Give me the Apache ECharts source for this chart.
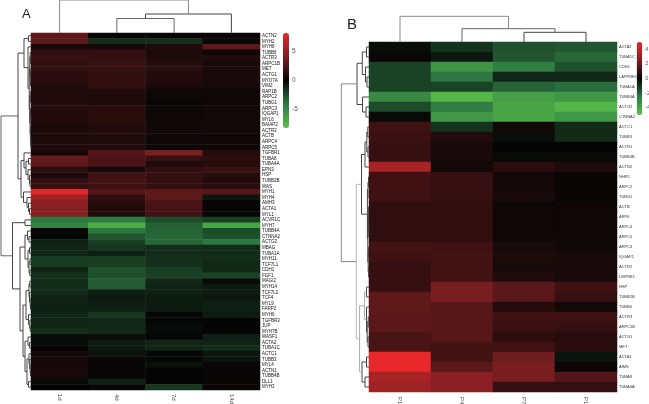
<!DOCTYPE html>
<html>
<head>
<meta charset="utf-8">
<title>Heatmaps</title>
<script src="https://cdn.jsdelivr.net/npm/echarts@6/dist/echarts.min.js"></script>
<style>
  html, body { margin: 0; padding: 0; background: #fff; }
  #chart { width: 649px; height: 404px; filter: blur(0.3px); }
</style>
</head>
<body>
<div id="chart"></div>
<script>
// panel A
var colsA = ['1d', '4d', '7d', '14d'];
var rowsA = ['ACTN2','MYH2','MYH8','TUBB6','ACTR3','ARPC1B','MET','ACTG1','MYO7A','VIM2','RAP1B','ARPC2','TUBG1','ARPC3','IQGAP1','MYL6','BAIAP2','ACTR2','ACTB','ARPC4','ARPC5','TGFBR1','TUBA8','TUBA4A','EPN3','HSP','TUBB2B','WAS','MYH1','MYH4','AMH3','ACTA1','MYL1','ACVR1C','MYH7','TUBB4A','CTNNA2','ACTG2','MBAG','TUBA1A','MYH11','TCF7L1','CDH1','FGF1','MAGI2','MYH14','TCF7L2','TCF4','MYL9','FARP2','MYH6','TGFBR3','JUP','MYH7B','WASF1','ACTA2','TUBA1C','ACTC1','TUBB3','MYL4','ACTN1','TUBB4B','DLL1','MYH3'];
var valuesA = [
  [3,0.2,0.2,0.2],[3,-1.4,-1.4,0.2],[0.6,0.5,0.9,3],[1.6,1.5,0.8,0.3],[1.7,1.6,0.9,1],[1.6,1.7,1.1,0.7],
  [1.5,1.6,1.2,0.7],[1.3,1.5,1,0.7],[1.3,1.6,1,0.7],[0.9,1.5,0.8,0.6],[0.9,0.9,0.3,0.3],[1,0.8,0.3,0.3],
  [1,0.8,0.2,0.3],[1.1,1.2,0.3,0.4],[1,1.2,0.3,0.4],[1,1.2,0.3,0.5],[0.8,1,0.4,0.4],[0.8,1,0.4,0.4],
  [0.8,0.9,0.4,0.3],[0.8,0.9,0.3,0.3],[0.9,1,0.3,0.3],[0.6,2.7,4,1.1],[3.3,2.4,1.7,1.3],[3,2.4,0.9,1.2],
  [1.3,0.6,1.5,1.8],[0.8,2,1.6,1.1],[1.5,2.2,1.6,1],[1.7,1.9,1.5,1.2],[8,2.6,3,2.8],[5.4,1.4,3,-0.6],
  [4.7,1.2,2.3,0.1],[4.5,0.9,2.2,0.1],[4.5,0.9,2,0.1],[-4,-4.2,-2.5,-2],[-4.5,-7,-3.2,-6.5],[0.1,-4,-3.3,-2.4],
  [0,-2.8,-3.4,-2.6],[-1,-2,-3.4,-4],[-1.1,-1.7,-1.4,-1.3],[-1.1,-0.9,-1.4,-1.3],[-1.9,-2,-1.5,-1.4],[-1.9,-2,-1.5,-1.2],
  [-1,-2.6,-2,-1.2],[-1.5,-2.6,-2.1,-2.2],[-1.4,-3,-1.2,-0.2],[-1.4,-3,-1,-0.7],[-1.3,-0.9,-0.9,-0.8],[-1,-0.7,-0.8,-0.6],
  [-1,-0.8,-0.8,-0.9],[-0.9,-0.9,-0.8,-0.9],[-1.1,-1.7,0,-0.8],[-1.1,-1.2,0,0],[-1.1,-1.2,-0.2,0],[-1.5,-1.2,-0.2,0],
  [-0.2,-0.3,0,-0.9],[-0.2,-0.8,-1.1,-1],[0,-0.7,-1.1,-1.4],[0.5,-0.5,-0.1,-0.6],[0.6,0.2,-0.1,-0.5],[0.6,0.1,-0.4,0.1],
  [0.6,0.1,0,0.1],[0.6,0.1,0,0.1],[-0.2,-0.9,0,0.2],[0,0,-1.7,0.2]
];
var ticksA = [-5, 0, 5];
// dendrograms: [height, child, child], a plain number is a leaf index
var treeColsA = [33, 0, [19, [14.5, 1, 2], 3]];
var treeRowsA = [30,
  [13,
    [7, [2.5, 0, 1], [3, 2,
      [1.8,
        [1.2, [0.8, 3, [0.5, 4, 5]], [0.7, [0.4, 6, 7], [0.5, 8, 9]]],
        [1.3, [0.7, 10, [0.4, 11, 12]], [0.9, [0.5, 13, [0.3, 14, 15]], [0.6, [0.3, 16, 17], [0.3, 18, [0.2, 19, 20]]]]]
      ]]],
    [10, [7, 21, [5, [2.5, 22, 23], [3, 24, [1.5, 25, [1, 26, 27]]]]], [7.5, 28, [4, 29, [2.5, 30, [1.5, 31, 32]]]]]
  ],
  [18.5,
    [6, 33, 34],
    [11,
      [6, [3.5, 35, [2, 36, 37]], [3, [1.5, 38, 39], [2, [1, 40, 41], [1.2, 42, 43]]]],
      [8,
        [5, [2, [1.2, 44, 45], [1.5, 46, [0.8, 47, [0.5, 48, 49]]]], [2.5, 50, [1.2, 51, [0.7, 52, 53]]]],
        [6, [3, 54, [1.5, 55, 56]], [4, [2, 57, [1.2, 58, [0.8, 59, [0.5, 60, 61]]]], [2.5, 62, 63]]]
      ]
    ]
  ]
];

// panel B
var colsB = ['P1', 'P4', 'P7', 'P14'];
var rowsB = ['ACTA2','TUBA1C','CDH1','LAPPRE1','TUBA1A','TUBB4A','ACTG2','CTNNA2','ACTC1','TUBB3','ACTN1','TUBB4B','ACTN2','NHR1','ARPC2','TUBG1','ACTB','ARP6','ARPC4','ARPC5','ARPC3','IQGAP1','ACTR2','LMPRE1','HSP','TUBB2B','TUBB6','ACTR3','ARPC1B','ACTG1','MET','ACTA1','AIMS','TUBA8','TUBA4A'];
var valuesB = [
  [-0.2,-1,-1.6,-1.7],[0.1,-0.4,-1.7,-2.1],[-1.3,-3.4,-2.6,-1.6],[-1.3,-2.4,-0.7,-0.7],[-1.3,-1.3,-2,-2.2],
  [-3,-4.6,-3.8,-3.5],[-1.5,-2.6,-4,-4.6],[-0.1,-3.5,-4,-3.5],[1.2,-1,0.3,-0.8],[1.1,0.6,-0.2,-0.8],
  [1,0.4,0,0],[1,0.4,-0.1,-0.1],[3.5,0.3,0.8,0.5],[1.2,1,0.3,0.1],[1.2,1,0.3,0.1],
  [1.2,1,0.4,0.1],[0.9,0.9,0.2,0.2],[0.9,0.9,0.2,0.2],[0.9,0.9,0.2,0.2],[0.9,0.9,0.2,0.2],
  [1.3,1.2,0.4,0.3],[1.2,1.3,0.5,0.4],[1,1.3,0.4,0.4],[1,1.3,0.6,0.4],[1,2.4,1.8,1.2],
  [1.9,2.4,1.8,1],[1.9,1.7,0.7,0.3],[1.8,1.7,1.2,1.2],[1.8,1.7,1.1,1],[1.4,1.7,0.8,0.7],
  [1.4,1.3,1.2,0.8],[5,1.3,2.2,-0.3],[5,1.8,2.4,0.1],[3.5,2.8,2.4,1.6],[3.3,2.8,1,1]
];
var ticksB = [-4, -2, 0, 2, 4];
var treeColsB = [25.7, 0, [13.3, 1, [9.7, 2, 3]]];
var treeRowsB = [27.7,
  [12,
    [6.7, [2.5, 0, 1], [3.5, 2, [2, 3, 4]]],
    [6.5, 5, [3, 6, 7]]
  ],
  [12.7,
    [7.5,
      [4, [2.2, [1.2, 8, 9], [1, 10, 11]], 12],
      [1.6, [1, [0.5, 13, 14], 15], [1.2, [0.6, 16, [0.3, 17, [0.2, 18, 19]]], [0.8, [0.5, 20, 21], [0.4, 22, 23]]]]
    ],
    [9.4,
      [4.5, [2.5, 24, 25], [2.5, 26, [1.8, [0.8, 27, 28], [1, 29, 30]]]],
      [7, [2.5, 31, 32], [4, 33, 34]]
    ]
  ]
];

var scaleColors = ['#5cc14a', '#2e7b43', '#050505', '#7d1f22', '#e8282a'];
var font = '"Liberation Sans", Arial, sans-serif';
// the big joins are printed in lighter greys, keyed by join height
var treeGrey = { 33: '#888', 30: '#666', 25.7: '#8a8a8a', 27.7: '#888', 12.7: '#b8b8b8', 9.4: '#aaa', 4.5: '#aaa', 13.3: '#666', 14.5: '#666' };

// walk a dendrogram, returns the leaf position of the node and pushes its segments
function walk(node, segs) {
  if (typeof node === 'number') return { pos: node + 0.5, h: 0 };
  var a = walk(node[1], segs), b = walk(node[2], segs), h = node[0];
  segs.push([a.h, a.pos, h, a.pos, h], [b.h, b.pos, h, b.pos, h], [h, a.pos, h, b.pos, h]);
  return { pos: (a.pos + b.pos) / 2, h: h };
}

function segments(tree, horizontal) {
  var segs = [];
  walk(tree, segs);
  // top dendrogram has position on x and height on y
  return horizontal ? segs.map(function (s) { return [s[1], s[0], s[3], s[2], s[4]]; }) : segs;
}

function renderSeg(params, api) {
  var s = api.coord([api.value(0), api.value(1)]);
  var e = api.coord([api.value(2), api.value(3)]);
  return {
    type: 'line',
    shape: { x1: s[0], y1: s[1], x2: e[0], y2: e[1] },
    style: { stroke: treeGrey[api.value(4)] || '#444', lineWidth: 1 }
  };
}

var option = {
  animation: false,
  backgroundColor: '#fff',
  title: [], grid: [], xAxis: [], yAxis: [], series: [], visualMap: []
};

function addPanel(p) {
  var base = option.grid.length;
  var heat = [];
  p.values.forEach(function (row, r) {
    row.forEach(function (v, c) { heat.push([c, r, v]); });
  });

  option.title.push({ text: p.name, left: p.nameX, top: p.nameY, padding: 0,
    textStyle: { fontFamily: font, fontSize: p.nameSize, fontWeight: 'normal', color: '#222' } });

  // heatmap
  option.grid.push({ left: p.left, top: p.top, width: p.width, height: p.height, outerBoundsMode: 'none' });
  option.xAxis.push({ type: 'category', gridIndex: base, data: p.cols, position: 'bottom',
    axisLine: { show: false }, axisTick: { show: false }, splitArea: { show: false },
    axisLabel: { rotate: -90, fontSize: 6, fontFamily: font, color: '#444', margin: p.colMargin } });
  option.yAxis.push({ type: 'category', gridIndex: base, data: p.rows, inverse: true, position: 'right',
    axisLine: { show: false }, axisTick: { show: false }, splitArea: { show: false },
    axisLabel: { interval: 0, fontSize: p.rowFont, fontFamily: font, color: p.rowColor, margin: 2 } });
  option.series.push({ type: 'heatmap', xAxisIndex: base, yAxisIndex: base, data: heat, silent: true });

  // row dendrogram
  option.grid.push({ left: p.left - p.treeW, top: p.top, width: p.treeW, height: p.height, outerBoundsMode: 'none' });
  option.xAxis.push({ type: 'value', gridIndex: base + 1, min: 0, max: p.treeW, inverse: true, show: false });
  option.yAxis.push({ type: 'value', gridIndex: base + 1, min: 0, max: p.rows.length, inverse: true, show: false });
  option.series.push({ type: 'custom', xAxisIndex: base + 1, yAxisIndex: base + 1, silent: true,
    renderItem: renderSeg, data: segments(p.treeRows, false) });

  // column dendrogram
  option.grid.push({ left: p.left, top: p.top - p.treeH, width: p.width, height: p.treeH, outerBoundsMode: 'none' });
  option.xAxis.push({ type: 'value', gridIndex: base + 2, min: 0, max: p.cols.length, show: false });
  option.yAxis.push({ type: 'value', gridIndex: base + 2, min: 0, max: p.treeH, show: false });
  option.series.push({ type: 'custom', xAxisIndex: base + 2, yAxisIndex: base + 2, silent: true,
    renderItem: renderSeg, data: segments(p.treeCols, true) });

  // colour bar labels
  option.grid.push({ left: p.barX, top: p.top, width: p.barW, height: p.barH, outerBoundsMode: 'none' });
  option.xAxis.push({ type: 'category', gridIndex: base + 3, show: false, data: [''] });
  option.yAxis.push({ type: 'value', gridIndex: base + 3, min: -p.range, max: p.range, position: 'right',
    splitLine: { show: false }, axisLine: { show: false }, axisTick: { show: false },
    axisLabel: { customValues: p.ticks, fontSize: p.tickFont, fontFamily: font, color: '#555', margin: 3 } });

  option.visualMap.push({ type: 'continuous', seriesIndex: base === 0 ? 0 : 3, min: -p.range, max: p.range,
    left: p.barX, top: p.top, itemWidth: p.barW, itemHeight: p.barH, padding: 0,
    calculable: false, hoverLink: false, text: null, showLabel: false, inRange: { color: scaleColors } });
}

addPanel({
  name: 'A', nameX: 22, nameY: 8, nameSize: 13, colMargin: 4,
  left: 31, top: 33, width: 229, height: 357, treeW: 31, treeH: 33,
  cols: colsA, rows: rowsA, values: valuesA, treeRows: treeRowsA, treeCols: treeColsA,
  rowFont: 4.5, rowColor: '#111', ticks: ticksA, tickFont: 6.5, range: 8.2, barX: 283, barW: 6, barH: 95
});
addPanel({
  name: 'B', nameX: 347, nameY: 17, nameSize: 15, colMargin: 5,
  left: 369, top: 42, width: 248, height: 350, treeW: 28, treeH: 25.7,
  cols: colsB, rows: rowsB, values: valuesB, treeRows: treeRowsB, treeCols: treeColsB,
  rowFont: 4, rowColor: '#333', ticks: ticksB, tickFont: 5.5, range: 5, barX: 636.7, barW: 5.5, barH: 73
});

var chart = echarts.init(document.getElementById('chart'), null, { renderer: 'canvas' });
chart.setOption(option);
</script>
</body>
</html>
